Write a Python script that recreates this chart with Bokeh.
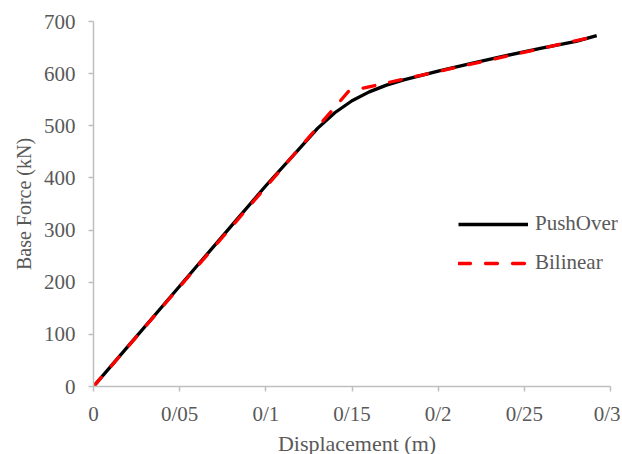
from bokeh.plotting import figure
from bokeh.models import Range1d, FixedTicker, Legend, LegendItem
from bokeh.embed import file_html
from bokeh.resources import INLINE

# Data
push_x = [0, 0.02, 0.04, 0.06, 0.08, 0.10, 0.12, 0.13, 0.14, 0.15, 0.16, 0.17, 0.18, 0.20, 0.22, 0.24, 0.26, 0.28, 0.292]
push_y = [0, 77, 154, 231, 308, 385, 458, 495, 525, 548, 565, 578, 588, 605, 620, 635, 649, 662, 673]
bil_x = [0, 0.148, 0.292]
bil_y = [0, 566, 672]

x_ticks = [0, 0.05, 0.1, 0.15, 0.2, 0.25, 0.3]
x_tick_labels = ["0", "0/05", "0/1", "0/15", "0/2", "0/25", "0/3"]
y_ticks = [0, 100, 200, 300, 400, 500, 600, 700]

FONT = "Liberation Serif"
TXT = "#595959"
AX = "#BFBFBF"

# frame extends slightly past x=0.3 so the legend text is not clipped; axis line bounded to [0, 0.3]
FW = 527
x_end = 0.3 * FW / 517

p = figure(frame_width=FW, frame_height=365, output_backend="svg", toolbar_location=None,
           x_range=Range1d(0, x_end), y_range=Range1d(0, 700),
           min_border_left=93, min_border_right=0, min_border_top=21, min_border_bottom=0)
p.outline_line_color = None
p.xgrid.visible = False
p.ygrid.visible = False

r1 = p.line(push_x, push_y, line_color="black", line_width=3.3)
r2 = p.line(bil_x, bil_y, line_color="#FF0000", line_width=3.3, line_dash="12 15", line_cap="round")

for ax in (p.xaxis[0], p.yaxis[0]):
    ax.axis_line_color = AX
    ax.axis_line_width = 1.5
    ax.major_tick_line_color = AX
    ax.major_tick_line_width = 1.5
    ax.major_tick_out = 5
    ax.major_tick_in = 0
    ax.minor_tick_line_color = None
    ax.major_label_text_font = FONT
    ax.major_label_text_font_size = "21px"
    ax.major_label_text_color = TXT
    ax.axis_label_text_font = FONT
    ax.axis_label_text_color = TXT
    ax.axis_label_text_font_style = "normal"

p.xaxis.bounds = (0, 0.3)
p.xaxis.ticker = FixedTicker(ticks=x_ticks)
p.xaxis.major_label_overrides = {t: l for t, l in zip(x_ticks, x_tick_labels)}
p.yaxis.ticker = FixedTicker(ticks=y_ticks)
p.xaxis.axis_label = "Displacement (m)"
p.yaxis.axis_label = "Base Force (kN)"
p.xaxis.axis_label_text_font_size = "22px"
p.yaxis.axis_label_text_font_size = "20px"
p.xaxis.major_label_standoff = 10
p.yaxis.major_label_standoff = 13
p.xaxis.axis_label_standoff = 2
p.yaxis.axis_label_standoff = 6

legend = Legend(items=[LegendItem(label="PushOver", renderers=[r1]),
                       LegendItem(label="Bilinear", renderers=[r2])],
                location=(365, 111), padding=0, margin=0, spacing=14,
                glyph_width=70, glyph_height=24, label_height=24, label_standoff=7,
                background_fill_alpha=0, border_line_color=None,
                label_text_font=FONT, label_text_font_size="21px", label_text_color=TXT)
p.add_layout(legend)

open("out.html", "w").write(file_html(p, INLINE))
